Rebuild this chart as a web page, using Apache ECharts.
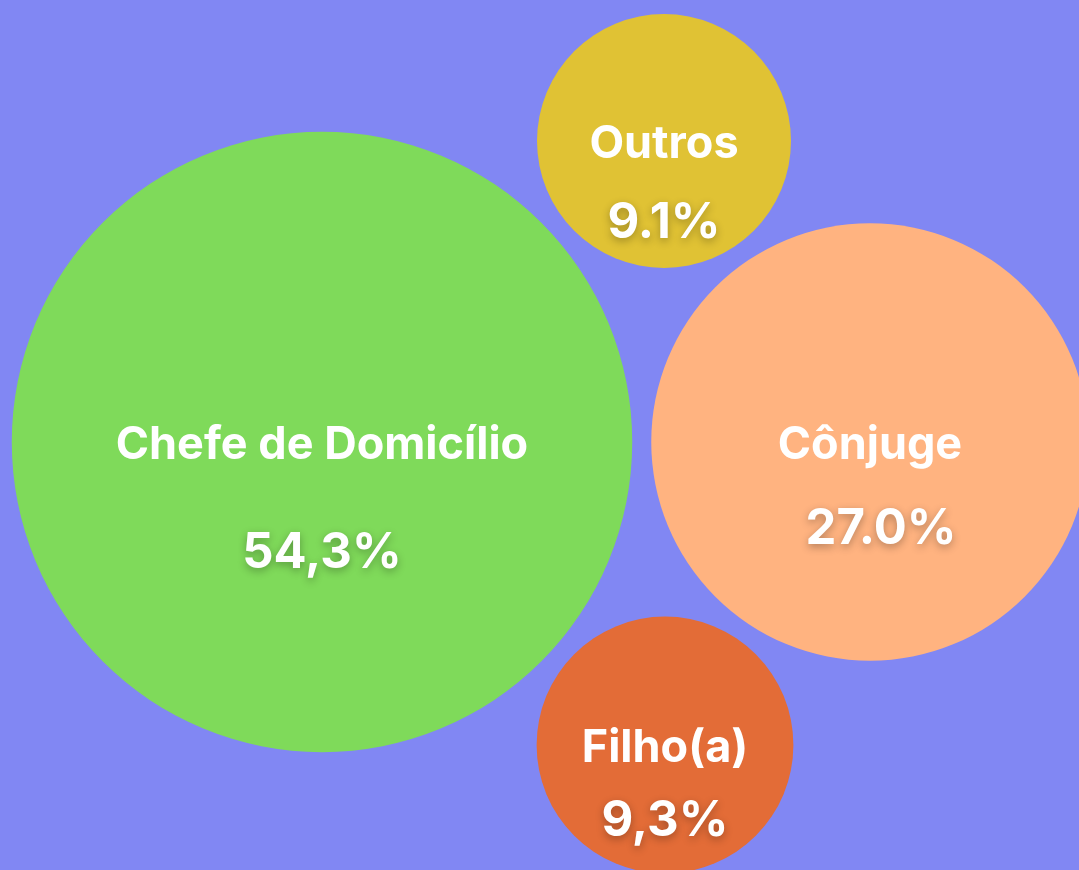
<!DOCTYPE html>
<html>
<head>
<meta charset="utf-8">
<script src="https://cdn.jsdelivr.net/npm/echarts@6/dist/echarts.min.js"></script>
<style>
  html, body { margin: 0; padding: 0; background: #8187f3; }
  #chart { width: 1079px; height: 870px; }
</style>
</head>
<body>
<div id="chart"></div>
<script>
// dados
const categories = ['Chefe de Domicílio', 'Outros', 'Cônjuge', 'Filho(a)'];
const values = [54.3, 9.1, 27.0, 9.3];
const valueLabels = ['54,3%', '9.1%', '27.0%', '9,3%'];
const colors = ['#7fda5a', '#e0c234', '#ffb380', '#e36c37'];

// posição das bolhas (layout)
const bubbleX = [322, 664, 870, 665];
const bubbleY = [442, 141, 442, 745];
// espaço entre nome e valor
const labelGap = [108, 79, 84, 73];
const valueShift = [0, 0, 22, 0];

const chart = echarts.init(document.getElementById('chart'));

const seriesData = categories.map((name, i) => ({
  name: name,
  value: [bubbleX[i], bubbleY[i], values[i]],
  itemStyle: { color: colors[i] },
  label: {
    offset: [0, labelGap[i] / 2 + 3],
    formatter: '{n|' + name + '}\n{v|' + valueLabels[i] + '}',
    rich: {
      n: {
        fontSize: 45, fontWeight: 'bold', color: '#fff',
        fontFamily: 'Inter', lineHeight: labelGap[i], align: 'center'
      },
      v: {
        fontSize: 49, fontWeight: 'bold', color: '#fff',
        fontFamily: 'Inter', lineHeight: labelGap[i], align: 'center',
        padding: [0, 0, 0, valueShift[i]],
        textShadowColor: 'rgba(0,0,0,0.3)', textShadowBlur: 8, textShadowOffsetY: 3
      }
    }
  }
}));

chart.setOption({
  backgroundColor: '#8187f3',
  animation: false,
  grid: { left: 0, right: 0, top: 0, bottom: 0 },
  xAxis: { type: 'value', min: 0, max: 1079, show: false },
  yAxis: { type: 'value', min: 0, max: 870, inverse: true, show: false },
  series: [{
    type: 'scatter',
    data: seriesData,
    // área proporcional ao valor
    symbolSize: function (val) { return 2 * 42.1 * Math.sqrt(val[2]); },
    itemStyle: { opacity: 1 },
    label: { show: true, position: 'inside' }
  }]
});
</script>
</body>
</html>
